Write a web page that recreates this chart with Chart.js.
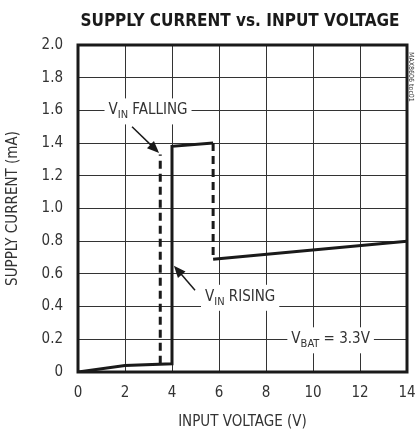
<!DOCTYPE html>
<html>
<head>
<meta charset="utf-8">
<script src="https://cdn.jsdelivr.net/npm/chart.js@4/dist/chart.umd.min.js"></script>
<style>
  html, body { margin: 0; padding: 0; background: #fff; }
  #wrap { width: 416px; height: 435px; position: relative; }
</style>
</head>
<body>
<div id="wrap"><canvas id="chart" width="416" height="435"></canvas></div>
<script>
// Supply current vs. input voltage (VBAT = 3.3V)
// null = break in the trace
const risingV = [0, 2, 4, 4, 5.75, null, 5.75, 14];
const risingI = [0, 0.04, 0.05, 1.38, 1.40, null, 0.69, 0.80];
const fallingV = [3.5, 3.5, null, 5.75, 5.75];
const fallingI = [0.05, 1.33, null, 1.40, 0.69];
const xTicks = [0, 2, 4, 6, 8, 10, 12, 14];
const yTicks = [0, 0.2, 0.4, 0.6, 0.8, 1.0, 1.2, 1.4, 1.6, 1.8, 2.0];

// labels: [main, subscript, rest, x (V), y (mA)] ; arrows: [fromV, fromI, toV, toI]
const labels = [
  ['V', 'IN', ' FALLING', 2.98, 1.60],
  ['V', 'IN', ' RISING', 6.9, 0.46],
  ['V', 'BAT', ' = 3.3V', 10.75, 0.2],
];
const arrows = [
  [2.30, 1.50, 3.45, 1.34],
  [4.98, 0.50, 4.08, 0.65],
];

const FONT = "'Liberation Sans Narrow', 'DejaVu Sans Condensed', Arial, sans-serif";
const toPts = (xs, ys) => xs.map((x, i) => (x === null ? { x: NaN, y: NaN } : { x, y: ys[i] }));

const extras = {
  id: 'extras',
  beforeDatasetsDraw(chart) {
    const { ctx, scales: { x, y } } = chart;
    ctx.save();
    labels.forEach(([main, sub, rest, v, i]) => {
      const px = x.getPixelForValue(v), py = y.getPixelForValue(i);
      ctx.font = `15px ${FONT}`;
      const w1 = ctx.measureText(main).width;
      const w3 = ctx.measureText(rest).width;
      ctx.font = `11px ${FONT}`;
      const w2 = ctx.measureText(sub).width;
      const w = w1 + w2 + w3;
      const left = px - w / 2;
      ctx.fillStyle = '#fff';
      ctx.fillRect(left - 4, py - 12, w + 8, 26);
      ctx.fillStyle = '#333';
      ctx.textBaseline = 'middle';
      ctx.textAlign = 'left';
      ctx.font = `15px ${FONT}`;
      ctx.fillText(main, left, py);
      ctx.font = `11px ${FONT}`;
      ctx.fillText(sub, left + w1, py + 5);
      ctx.font = `15px ${FONT}`;
      ctx.fillText(rest, left + w1 + w2, py);
    });
    ctx.restore();
  },
  afterDraw(chart) {
    const { ctx, chartArea: a, scales: { x, y } } = chart;
    ctx.save();
    ctx.strokeStyle = '#1a1a1a';
    ctx.fillStyle = '#1a1a1a';
    arrows.forEach(([v0, i0, v1, i1]) => {
      const x0 = x.getPixelForValue(v0), y0 = y.getPixelForValue(i0);
      const x1 = x.getPixelForValue(v1), y1 = y.getPixelForValue(i1);
      const ang = Math.atan2(y1 - y0, x1 - x0);
      ctx.lineWidth = 1.5;
      ctx.beginPath();
      ctx.moveTo(x0, y0);
      ctx.lineTo(x1 - 8 * Math.cos(ang), y1 - 8 * Math.sin(ang));
      ctx.stroke();
      ctx.beginPath();
      ctx.moveTo(x1, y1);
      ctx.lineTo(x1 - 12 * Math.cos(ang) + 5 * Math.sin(ang), y1 - 12 * Math.sin(ang) - 5 * Math.cos(ang));
      ctx.lineTo(x1 - 12 * Math.cos(ang) - 5 * Math.sin(ang), y1 - 12 * Math.sin(ang) + 5 * Math.cos(ang));
      ctx.closePath();
      ctx.fill();
    });
    // frame
    ctx.lineWidth = 3;
    ctx.strokeStyle = '#1a1a1a';
    ctx.strokeRect(a.left, a.top, a.right - a.left, a.bottom - a.top);
    // title
    ctx.fillStyle = '#1a1a1a';
    ctx.font = `bold 17px 'DejaVu Sans Condensed', ${FONT}`;
    ctx.textAlign = 'center';
    ctx.textBaseline = 'middle';
    ctx.fillText('SUPPLY CURRENT vs. INPUT VOLTAGE', 240, 22);
    // side tag
    ctx.translate(411, 52);
    ctx.rotate(Math.PI / 2);
    ctx.font = `7px ${FONT}`;
    ctx.fillStyle = '#333';
    ctx.textAlign = 'left';
    ctx.fillText('MAX8606 toc01', 0, 0);
    ctx.restore();
  },
};

new Chart(document.getElementById('chart'), {
  type: 'line',
  data: {
    datasets: [
      {
        label: 'VIN RISING',
        data: toPts(risingV, risingI),
        borderColor: '#1a1a1a',
        borderWidth: 3,
        pointRadius: 0,
        tension: 0,
        spanGaps: false,
      },
      {
        label: 'VIN FALLING',
        data: toPts(fallingV, fallingI),
        borderColor: '#1a1a1a',
        borderWidth: 3,
        borderDash: [8, 5],
        pointRadius: 0,
        tension: 0,
        spanGaps: false,
      },
    ],
  },
  options: {
    responsive: false,
    animation: false,
    layout: { padding: { top: 45, right: 9, left: 0, bottom: 0 } },
    plugins: { legend: { display: false }, tooltip: { enabled: false } },
    scales: {
      x: {
        type: 'linear',
        min: 0,
        max: 14,
        afterBuildTicks: (s) => { s.ticks = xTicks.map((v) => ({ value: v })); },
        afterFit: (s) => { s.height = 63; s.paddingRight = 0; s.paddingLeft = 0; },
        grid: { color: '#333', lineWidth: 1, drawTicks: false },
        border: { display: false },
        ticks: { color: '#333', font: { family: FONT, size: 15 }, padding: 12, maxRotation: 0 },
        title: { display: true, text: 'INPUT VOLTAGE (V)', color: '#333', font: { family: FONT, size: 15 }, padding: { top: 4 } },
      },
      y: {
        type: 'linear',
        min: 0,
        max: 2,
        afterBuildTicks: (s) => { s.ticks = yTicks.map((v) => ({ value: v })); },
        afterFit: (s) => { s.width = 78; },
        grid: { color: '#333', lineWidth: 1, drawTicks: false },
        border: { display: false },
        ticks: {
          color: '#333',
          font: { family: FONT, size: 15 },
          padding: 15,
          callback: (v) => (v === 0 ? '0' : v.toFixed(1)),
        },
        title: { display: true, text: 'SUPPLY CURRENT (mA)', color: '#333', font: { family: FONT, size: 15 }, padding: { bottom: 4 } },
      },
    },
  },
  plugins: [extras],
});
</script>
</body>
</html>
